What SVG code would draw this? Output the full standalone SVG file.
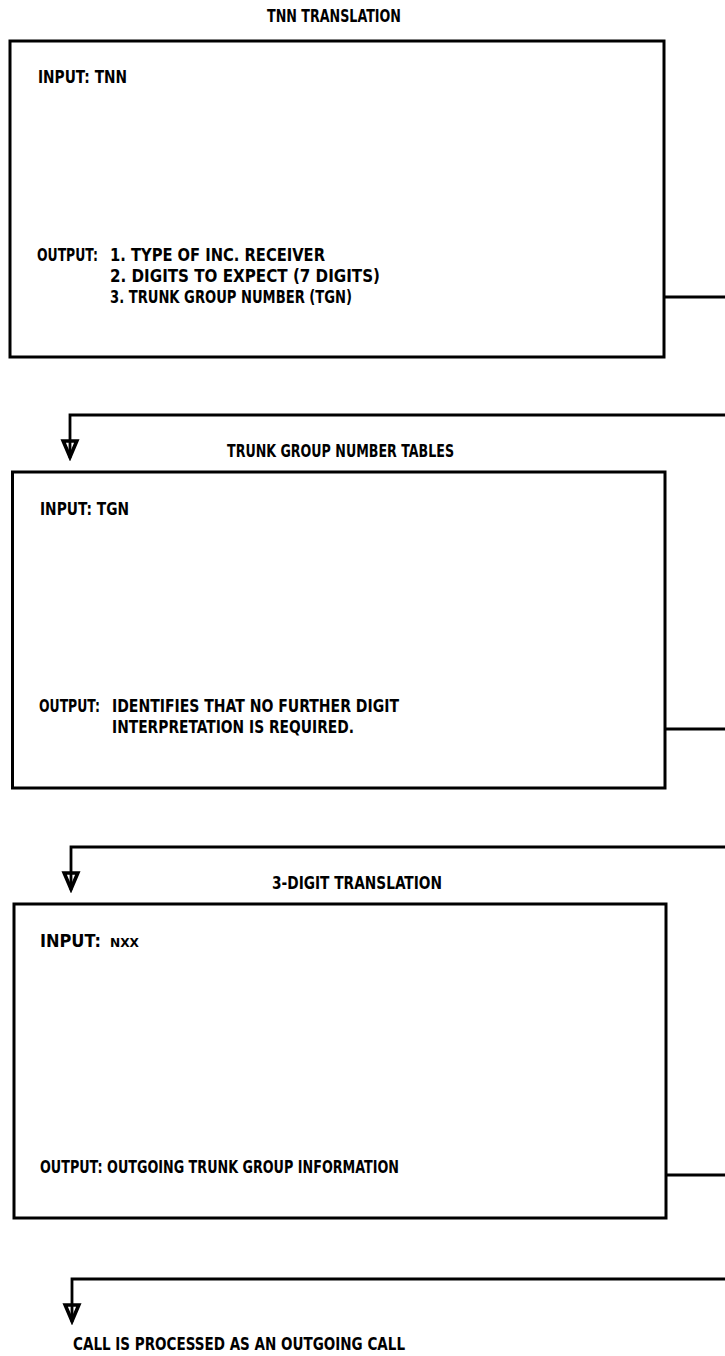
<svg xmlns="http://www.w3.org/2000/svg" width="725" height="1356" viewBox="0 0 725 1356">
<style>
.box{fill:#fff;stroke:#000;stroke-width:3}
.t{font-family:"DejaVu Sans","Liberation Sans",sans-serif;font-stretch:condensed;font-weight:bold;font-size:17px;fill:#000}
.s{font-size:12.5px}
.conn{fill:none;stroke:#000;stroke-width:2.8}
</style>
<defs>
<marker id="arr" markerUnits="userSpaceOnUse" viewBox="-2 -10 22 20" refX="17" refY="0" markerWidth="22" markerHeight="20" orient="auto">
<polygon points="0,-6.8 16,0 0,6.8" fill="none" stroke="#000" stroke-width="3.6" stroke-linejoin="miter"/>
</marker>
</defs>
<rect width="725" height="1356" fill="#fff"/>
<g id="connectors">
<path class="conn" d="M664,297 H730 V415 H70 V458" marker-end="url(#arr)"/>
<path class="conn" d="M665,729 H730 V847 H71 V890" marker-end="url(#arr)"/>
<path class="conn" d="M666,1175 H730 V1279 H72 V1322" marker-end="url(#arr)"/>
</g>
<g id="tnn-translation">
<text class="t" x="267" y="22" textLength="134" lengthAdjust="spacingAndGlyphs">TNN TRANSLATION</text>
<rect class="box" x="10" y="41" width="654" height="316"/>
<text class="t" x="38" y="83" textLength="89" lengthAdjust="spacingAndGlyphs">INPUT: TNN</text>
<text class="t" x="37" y="261" textLength="61" lengthAdjust="spacingAndGlyphs">OUTPUT:</text>
<text class="t" x="110" y="261" textLength="215" lengthAdjust="spacingAndGlyphs">1. TYPE OF INC. RECEIVER</text>
<text class="t" x="110" y="282" textLength="270" lengthAdjust="spacingAndGlyphs">2. DIGITS TO EXPECT (7 DIGITS)</text>
<text class="t" x="110" y="303" textLength="242" lengthAdjust="spacingAndGlyphs">3. TRUNK GROUP NUMBER (TGN)</text>
</g>
<g id="trunk-group-number-tables">
<text class="t" x="227" y="457" textLength="227" lengthAdjust="spacingAndGlyphs">TRUNK GROUP NUMBER TABLES</text>
<rect class="box" x="12.5" y="472" width="652.5" height="316"/>
<text class="t" x="40" y="515" textLength="89" lengthAdjust="spacingAndGlyphs">INPUT: TGN</text>
<text class="t" x="39" y="712" textLength="61" lengthAdjust="spacingAndGlyphs">OUTPUT:</text>
<text class="t" x="112" y="712" textLength="287" lengthAdjust="spacingAndGlyphs">IDENTIFIES THAT NO FURTHER DIGIT</text>
<text class="t" x="112" y="733" textLength="242" lengthAdjust="spacingAndGlyphs">INTERPRETATION IS REQUIRED.</text>
</g>
<g id="three-digit-translation">
<text class="t" x="272" y="889" textLength="170" lengthAdjust="spacingAndGlyphs">3-DIGIT TRANSLATION</text>
<rect class="box" x="14" y="904" width="652" height="314"/>
<text class="t" x="40" y="947" textLength="61" lengthAdjust="spacingAndGlyphs">INPUT:</text>
<text class="t s" x="110" y="947" textLength="29" lengthAdjust="spacingAndGlyphs">NXX</text>
<text class="t" x="40" y="1173" textLength="359" lengthAdjust="spacingAndGlyphs">OUTPUT: OUTGOING TRUNK GROUP INFORMATION</text>
</g>
<g id="outgoing-call">
<text class="t" x="73" y="1350" textLength="332" lengthAdjust="spacingAndGlyphs">CALL IS PROCESSED AS AN OUTGOING CALL</text>
</g>
</svg>
